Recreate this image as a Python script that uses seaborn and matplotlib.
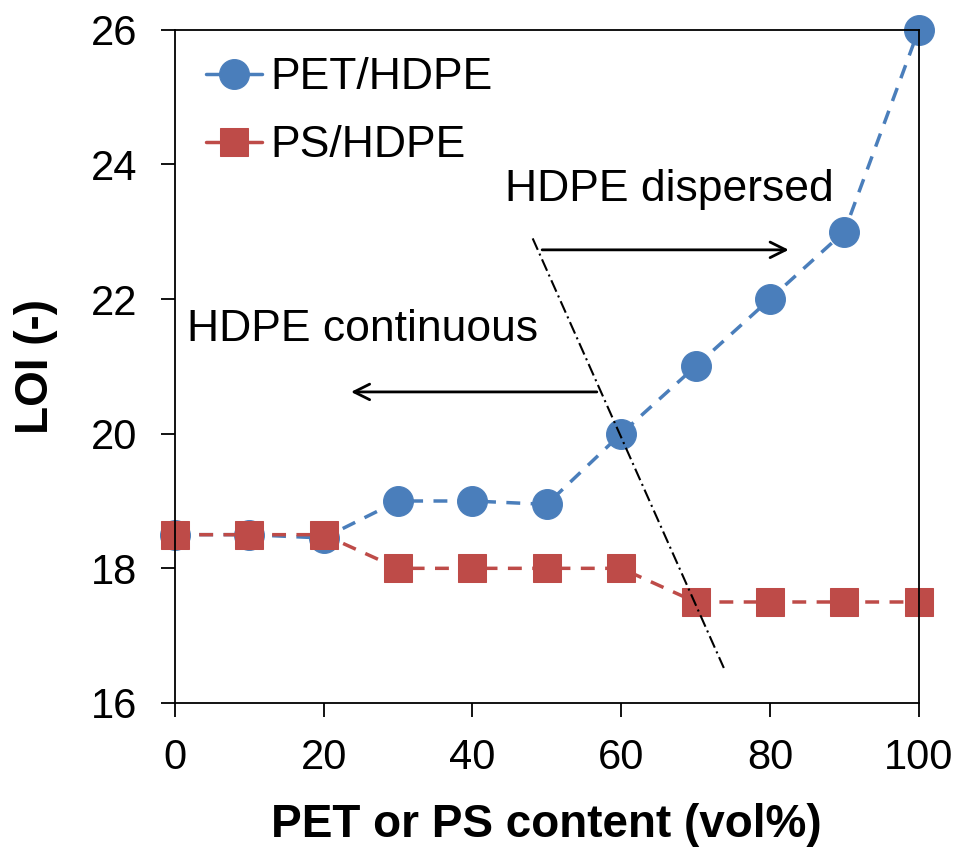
import matplotlib
matplotlib.use("Agg")
import matplotlib.pyplot as plt
import seaborn as sns
import pandas as pd

content = [0, 10, 20, 30, 40, 50, 60, 70, 80, 90, 100]
pet_hdpe = [18.5, 18.5, 18.45, 19, 19, 18.95, 20, 21, 22, 23, 26]
ps_hdpe = [18.5, 18.5, 18.5, 18, 18, 18, 18, 17.5, 17.5, 17.5, 17.5]
x_ticks = [0, 20, 40, 60, 80, 100]
y_ticks = [16, 18, 20, 22, 24, 26]

sns.set_theme(style="white")
plt.rcParams['font.family'] = ['Liberation Sans', 'DejaVu Sans']
plt.rcParams['text.color'] = 'black'
plt.rcParams['axes.labelcolor'] = 'black'
plt.rcParams['xtick.color'] = 'black'
plt.rcParams['ytick.color'] = 'black'

df = pd.DataFrame({"content": content, "PET/HDPE": pet_hdpe, "PS/HDPE": ps_hdpe})

fig = plt.figure(figsize=(9.61, 8.48), dpi=100)
ax = fig.add_axes([0.182, 0.171, 0.774, 0.794])

blue = "#4a7ebb"
red = "#be4b48"
sns.lineplot(data=df, x="content", y="PET/HDPE", ax=ax, color=blue, marker="o",
             markersize=21.5, markeredgecolor=blue, linestyle=(0, (4, 3)), linewidth=2.5,
             label="PET/HDPE", clip_on=False)
sns.lineplot(data=df, x="content", y="PS/HDPE", ax=ax, color=red, marker="s",
             markersize=20, markeredgecolor=red, linestyle=(0, (4, 3)), linewidth=2.5,
             label="PS/HDPE", clip_on=False)

# dash-dot boundary line
ax.plot([48.1, 73.8], [22.9, 16.52], color="black", linestyle=(0, (6, 2, 1, 2)), linewidth=1.5)

# arrows
ax.annotate("", xy=(82.9, 22.73), xytext=(49.0, 22.73),
            arrowprops=dict(arrowstyle="->", color="black", lw=2, mutation_scale=28))
ax.annotate("", xy=(23.3, 20.62), xytext=(57.1, 20.62),
            arrowprops=dict(arrowstyle="->", color="black", lw=2, mutation_scale=28))

ax.text(44.4, 23.62, "HDPE dispersed", fontsize=32, va="center", ha="left")
ax.text(1.6, 21.54, "HDPE continuous", fontsize=32, va="center", ha="left")

ax.set_xlim(0, 100)
ax.set_ylim(16, 26)
ax.set_xticks(x_ticks)
ax.set_yticks(y_ticks)
ax.tick_params(axis="both", which="major", labelsize=30, direction="out", length=10,
               width=1.3, color="black", bottom=True, left=True)
ax.tick_params(axis="y", pad=17)
ax.tick_params(axis="x", pad=15)
for s in ax.spines.values():
    s.set_color("black")
    s.set_linewidth(1.3)

ax.set_xlabel("PET or PS content (vol%)", fontsize=33, fontweight="bold", labelpad=18)
ax.set_ylabel("LOI (-)", fontsize=33, fontweight="bold", labelpad=24)

leg = ax.legend(loc="upper left", fontsize=32, frameon=False, handlelength=1.25,
                handletextpad=0.2, labelspacing=0.6, bbox_to_anchor=(0.0, 1.005),
                borderaxespad=0.3)
for line in leg.get_lines():
    line.set_linestyle("-")

fig.savefig("out.png", dpi=100)
